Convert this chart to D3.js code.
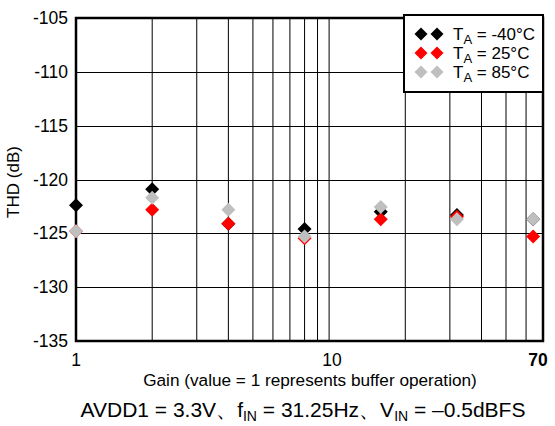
<!DOCTYPE html>
<html><head><meta charset="utf-8">
<script src="https://cdn.jsdelivr.net/npm/d3@7"></script>
<style>
body{margin:0;background:#fff;}
svg{display:block;font-family:"Liberation Sans",Arial,sans-serif;}
</style></head><body>
<svg id="c" width="555" height="426"></svg>
<script>
const gains = [1, 2, 4, 8, 16, 32, 64];
const thdM40 = [-122.4, -120.9, -124.1, -124.6, -123.0, -123.3, -123.7];
const thd25  = [-124.8, -122.8, -124.1, -125.45, -123.7, -123.45, -125.3];
const thd85  = [-124.8, -121.7, -122.8, -125.3, -122.55, -123.7, -123.7];
const seriesNames = ["-40°C", "25°C", "85°C"];
const seriesColors = ["#000000", "#ff0000", "#bfbfbf"];
const yTicks = [-105, -110, -115, -120, -125, -130, -135];
const xGrid = [2,3,4,5,6,7,8,9,10,20,30,40,50,60];
const xTickLabels = [1, 10, 70];

const svg = d3.select("#c");
const L = 76, R = 543, T = 18, B = 341;
const x = d3.scaleLog().domain([1, 70]).range([L, R]);
const y = d3.scaleLinear().domain([-135, -105]).range([B, T]);

// grid
svg.append("g").selectAll("line").data(xGrid).join("line")
  .attr("x1", d => x(d)).attr("x2", d => x(d)).attr("y1", T).attr("y2", B)
  .attr("stroke", "#000").attr("stroke-width", 1);
svg.append("g").selectAll("line").data(yTicks).join("line")
  .attr("x1", L).attr("x2", R).attr("y1", d => Math.round(y(d))+0.5).attr("y2", d => Math.round(y(d))+0.5)
  .attr("stroke", "#000").attr("stroke-width", 1);

// frame
svg.append("rect").attr("x", L).attr("y", T).attr("width", R - L).attr("height", B - T)
  .attr("fill", "none").attr("stroke", "#000").attr("stroke-width", 2.5);

// y tick labels
svg.append("g").selectAll("text").data(yTicks).join("text")
  .attr("x", 68).attr("y", d => y(d) + 6).attr("text-anchor", "end")
  .attr("font-size", 17.5).text(d => String(d));

// x tick labels
svg.append("g").selectAll("text").data(xTickLabels).join("text")
  .attr("x", d => d === 70 ? x(d) - 5 : (d === 10 ? x(d) + 3 : x(d))).attr("y", 366).attr("text-anchor", "middle")
  .attr("font-size", 17.5).attr("font-weight", d => d === 70 ? "bold" : "normal")
  .text(d => String(d));

// axis titles
svg.append("text").attr("x", 310).attr("y", 386).attr("text-anchor", "middle")
  .attr("font-size", 17.2).text("Gain (value = 1 represents buffer operation)");
svg.append("text").attr("transform", "translate(19,182) rotate(-90)").attr("text-anchor", "middle")
  .attr("font-size", 17).text("THD (dB)");

// caption
const cap = svg.append("text").attr("x", 303).attr("y", 417).attr("text-anchor", "middle").attr("font-size", 21);
cap.append("tspan").text("AVDD1 = 3.3V、f");
cap.append("tspan").attr("font-size", 14).attr("dy", 3.5).text("IN");
cap.append("tspan").attr("dy", -3.5).text(" = 31.25Hz、V");
cap.append("tspan").attr("font-size", 14).attr("dy", 3.5).text("IN");
cap.append("tspan").attr("dy", -3.5).text(" = \u20130.5dBFS");

// points
const diamond = r => `M0,${-r}L${r},0L0,${r}L${-r},0Z`;
const series = [thdM40, thd25, thd85];
series.forEach((vals, i) => {
  svg.append("g").selectAll("path").data(vals).join("path")
    .attr("d", diamond(7))
    .attr("transform", (d, j) => `translate(${x(gains[j])},${y(d)})`)
    .attr("fill", seriesColors[i]);
});

// legend
const lg = svg.append("g");
lg.append("rect").attr("x", 404).attr("y", 15).attr("width", 139).attr("height", 77)
  .attr("fill", "#fff").attr("stroke", "#000").attr("stroke-width", 2);
const rowsY = [34, 53, 72];
seriesNames.forEach((n, i) => {
  [421, 437].forEach(cx => {
    lg.append("path").attr("d", diamond(6.5)).attr("transform", `translate(${cx},${rowsY[i]})`).attr("fill", seriesColors[i]);
  });
  const t = lg.append("text").attr("x", 453).attr("y", rowsY[i] + 6).attr("font-size", 17);
  t.append("tspan").text("T");
  t.append("tspan").attr("font-size", 13).attr("dy", 4).text("A");
  t.append("tspan").attr("dy", -4).text(" = " + n);
});
</script>
</body></html>
